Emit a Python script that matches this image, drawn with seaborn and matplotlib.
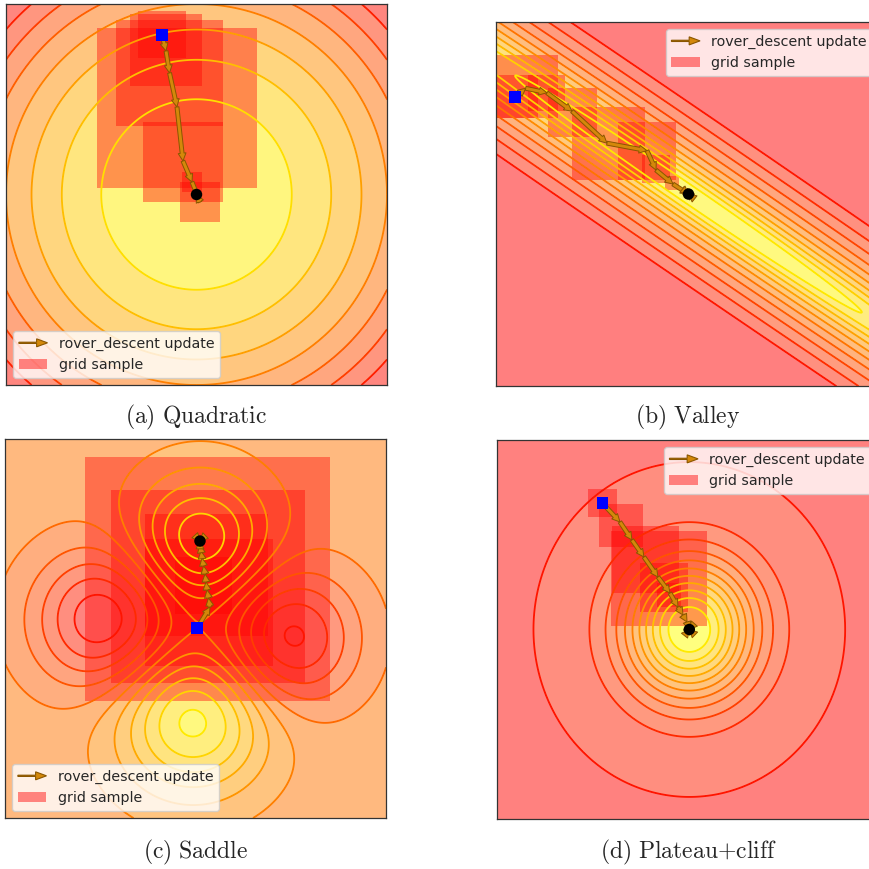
import numpy as np
import matplotlib
matplotlib.use("Agg")
import matplotlib.pyplot as plt
import seaborn as sns
from matplotlib.colors import Normalize
from matplotlib.patches import Rectangle, Patch, FancyArrow
from matplotlib.legend_handler import HandlerPatch

sns.set_style("white")
plt.rcParams["font.family"] = ["DejaVu Sans"]
plt.rcParams["mathtext.fontset"] = "cm"

# ---------------------------------------------------------------- data
captions = [r"$\mathrm{(a)\ Quadratic}$", r"$\mathrm{(b)\ Valley}$",
            r"$\mathrm{(c)\ Saddle}$", r"$\mathrm{(d)\ Plateau{+}cliff}$"]
legend_labels = ["rover_descent update", "grid sample"]

# (a) quadratic bowl: iterates and sampled boxes (centre x, centre y, half size)
quad_path_x = [-0.362, -0.320, -0.283, -0.205, -0.142, -0.047, 0.037, 0.0]
quad_path_y = [1.675, 1.507, 1.276, 0.919, 0.352, 0.131, -0.079, 0.0]
quad_box_x = [-0.362, -0.320, -0.283, -0.205, -0.142, -0.047, 0.037]
quad_box_y = [1.680, 1.517, 1.276, 0.909, 0.341, 0.131, -0.079]
quad_box_h = [0.25, 0.38, 0.56, 0.84, 0.42, 0.105, 0.21]

# (b) narrow rotated valley
valley_min = [0.005, 0.104]
valley_axis = [0.825, -0.565]
valley_width = [3.44, 0.147]
valley_path_x = [-1.802, -1.691, -1.469, -1.208, -0.844, -0.427, -0.333, -0.156,
                 0.005, 0.035, 0.005, -0.02, 0.005]
valley_path_y = [1.115, 1.208, 1.161, 0.969, 0.635, 0.557, 0.354, 0.208,
                 0.104, 0.080, 0.104, 0.125, 0.104]
valley_box_x = [-1.786, -1.682, -1.474, -1.203, -0.828, -0.422, -0.333, -0.167]
valley_box_y = [1.120, 1.224, 1.161, 0.958, 0.630, 0.552, 0.365, 0.219]
valley_box_h = [0.224, 0.328, 0.188, 0.255, 0.380, 0.302, 0.146, 0.073]

# (c) saddle built from two wells and two bumps
saddle_cx = [0.047, -0.023, -0.96, 0.974]
saddle_cy = [0.927, -0.948, 0.09, -0.103]
saddle_amp = [-1.1, -1.2, 1.1, 1.0]
saddle_sigma = [0.48, 0.55, 0.52, 0.50]
saddle_path_x = [0.016, 0.152, 0.136, 0.121, 0.110, 0.100, 0.084, 0.068, 0.058,
                 0.047, 0.047, 0.005, 0.047, 0.090, 0.047]
saddle_path_y = [0.002, 0.227, 0.322, 0.406, 0.491, 0.575, 0.660, 0.744, 0.818,
                 0.881, 0.923, 0.970, 0.923, 0.965, 0.923]
saddle_box_x = [0.126, 0.131, 0.115, 0.142, 0.080]
saddle_box_y = [0.522, 0.443, 0.562, 0.274, 0.450]
saddle_box_h = [1.286, 1.018, 0.646, 0.672, 0.300]

# (d) plateau with a steep well
plateau_min = [0.019, 0.0]
plateau_depth = [10.87, 2.48]
plateau_radius = [0.657, 4.54]
plateau_stretch = 1.08
plateau_path_x = [-0.892, -0.709, -0.583, -0.457, -0.310, -0.184, -0.100, -0.047,
                  -0.005, 0.019, 0.050, 0.019, -0.012, 0.019, 0.045, 0.019]
plateau_path_y = [1.332, 1.135, 0.945, 0.765, 0.554, 0.385, 0.237, 0.153,
                  0.079, 0.0, -0.030, 0.0, -0.040, 0.0, 0.030, 0.0]
plateau_box_x = [-0.894, -0.698, -0.443, -0.301, -0.245, -0.194]
plateau_box_y = [1.335, 1.096, 0.737, 0.536, 0.443, 0.364]
plateau_box_h = [0.150, 0.228, 0.352, 0.504, 0.254, 0.126]

# ---------------------------------------------------------------- surfaces
def quadratic(X, Y):
    return X ** 2 + Y ** 2


def valley(X, Y):
    dx, dy = X - valley_min[0], Y - valley_min[1]
    ax_, ay_ = valley_axis
    u = ax_ * dx + ay_ * dy
    v = -ay_ * dx + ax_ * dy
    return np.log1p((u / valley_width[0]) ** 2 + (v / valley_width[1]) ** 2)


def saddle(X, Y):
    Z = np.zeros_like(X)
    for cx, cy, a, s in zip(saddle_cx, saddle_cy, saddle_amp, saddle_sigma):
        Z += a * np.exp(-((X - cx) ** 2 + (Y - cy) ** 2) / (2 * s ** 2))
    return Z


def plateau(X, Y):
    q = (X - plateau_min[0]) ** 2 + ((Y - plateau_min[1]) / plateau_stretch) ** 2
    return -(plateau_depth[0] * np.exp(-q / plateau_radius[0] ** 2)
             + plateau_depth[1] * np.exp(-q / plateau_radius[1] ** 2))


# ---------------------------------------------------------------- styling
ARROW_FC = "#d4880a"
ARROW_EC = "#8a5600"
BOX_ALPHA = 0.4
CMAP = "autumn_r"

W, H = 870, 869
fig = plt.figure(figsize=(W / 100, H / 100), dpi=100)


def px_axes(x0, y0, x1, y1):
    return fig.add_axes([x0 / W, 1 - y1 / H, (x1 - x0) / W, (y1 - y0) / H])


def make_legend_arrow(legend, orig_handle, xdescent, ydescent, width, height, fontsize):
    return FancyArrow(0, 0.5 * height, width, 0, width=0.9, head_width=0.8 * height,
                      head_length=0.38 * width, length_includes_head=True)


def draw_panel(ax, func, xlim, ylim, fill_levels, line_levels, norm,
               px, py, bx, by, bh, legend_loc):
    xs = np.linspace(xlim[0], xlim[1], 500)
    ys = np.linspace(ylim[0], ylim[1], 500)
    X, Y = np.meshgrid(xs, ys)
    Z = func(X, Y)
    if callable(fill_levels):
        fill_levels = fill_levels(Z)
    ax.contourf(X, Y, Z, levels=fill_levels, cmap=CMAP, norm=norm, alpha=0.5, zorder=0)
    for cx, cy, h in zip(bx, by, bh):
        ax.add_patch(Rectangle((cx - h, cy - h), 2 * h, 2 * h, facecolor="red",
                               edgecolor="none", linewidth=0, alpha=BOX_ALPHA, zorder=1))
    ax.contour(X, Y, Z, levels=line_levels, cmap=CMAP, norm=norm,
               linewidths=1.3, zorder=2)
    for x0, y0, x1, y1 in zip(px[:-1], py[:-1], px[1:], py[1:]):
        ax.annotate("", xy=(x1, y1), xytext=(x0, y0), zorder=3,
                    arrowprops=dict(arrowstyle="simple,head_length=0.4,head_width=0.4,tail_width=0.2",
                                    fc=ARROW_FC, ec=ARROW_EC, lw=0.7,
                                    shrinkA=0, shrinkB=0, mutation_scale=14))
    sns.scatterplot(x=[px[0]], y=[py[0]], marker="s", s=72, color="blue",
                    edgecolor="none", ax=ax, zorder=6, legend=False)
    end = len(px) - 1
    sns.scatterplot(x=[px[end]], y=[py[end]], marker="o", s=68, color="black",
                    edgecolor="none", ax=ax, zorder=6, legend=False)
    ax.set_xlim(*xlim)
    ax.set_ylim(*ylim)
    ax.set_xticks([])
    ax.set_yticks([])
    for sp in ax.spines.values():
        sp.set_linewidth(0.9)
        sp.set_color("#333333")
    arrow_handle = FancyArrow(0, 0, 1, 0, facecolor=ARROW_FC, edgecolor=ARROW_EC, linewidth=0.8)
    box_handle = Patch(facecolor="red", alpha=0.45, edgecolor="none")
    ax.legend([arrow_handle, box_handle], legend_labels, loc=legend_loc, fontsize=10.3,
              handler_map={FancyArrow: HandlerPatch(patch_func=make_legend_arrow)})


# (a)
ax_a = px_axes(6, 4, 387, 385)
draw_panel(ax_a, quadratic, (-2, 2), (-2, 2), np.arange(0, 9), np.arange(1, 8),
           Normalize(0, 8), quad_path_x, quad_path_y,
           quad_box_x, quad_box_y, quad_box_h, "lower left")

# (b)
step_b = 0.34
lines_b = step_b * np.arange(1, 11)
ax_b = px_axes(496, 22, 880, 386)
draw_panel(ax_b, valley, (-2, 2), (-1.9, 1.9),
           lambda Z: np.concatenate([[-0.01], lines_b, [Z.max() + 1]]), lines_b,
           Normalize(0, 11 * step_b), valley_path_x, valley_path_y,
           valley_box_x, valley_box_y, valley_box_h, "upper right")

# (c)
levels_c = np.linspace(-1.3, 1.1, 13)
ax_c = px_axes(5, 439, 386, 818)
draw_panel(ax_c, saddle, (-2, 2), (-2, 2), levels_c, levels_c,
           Normalize(-1.3, 1.1), saddle_path_x, saddle_path_y,
           saddle_box_x, saddle_box_y, saddle_box_h, "lower left")

# (d)
lines_d = np.linspace(-12.2, -2.2, 11)
ax_d = px_axes(497, 440, 878, 819)
draw_panel(ax_d, plateau, (-2, 2), (-2, 2),
           lambda Z: np.concatenate([[Z.min() - 1], lines_d, [Z.max() + 1]]), lines_d,
           Normalize(-13.2, -1.2), plateau_path_x, plateau_path_y,
           plateau_box_x, plateau_box_y, plateau_box_h, "upper right")

# captions under each panel
for (cx, cy), text in zip([(196, 417), (688, 417), (196, 852), (688, 852)], captions):
    fig.text(cx / W, 1 - cy / H, text, ha="center", va="center", fontsize=17)

fig.savefig("out.png", dpi=100)
